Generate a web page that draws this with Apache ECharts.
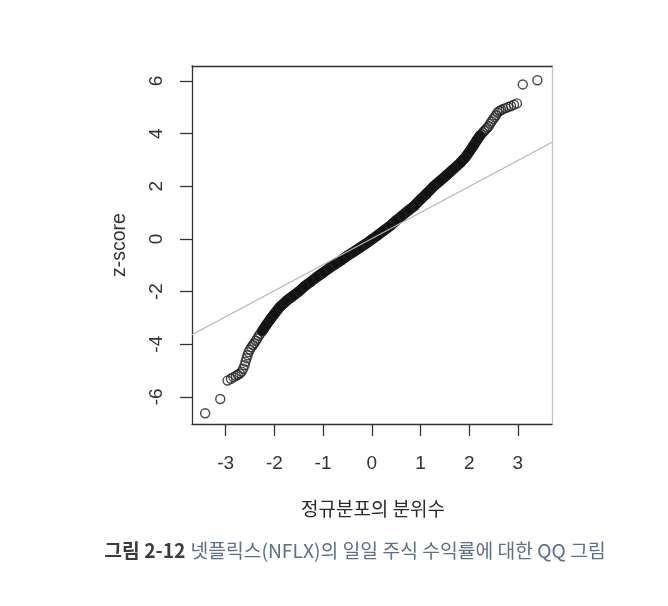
<!DOCTYPE html>
<html>
<head>
<meta charset="utf-8">
<script src="https://cdn.jsdelivr.net/npm/echarts@6/dist/echarts.min.js"></script>
<style>
html,body{margin:0;padding:0;background:#fff;}
#c{width:668px;height:606px;}
</style>
</head>
<body>
<div id="c"></div>
<script>
// theoretical normal quantiles and sample z-scores
const bandQ = [-2.25,-2.16,-2.09,-2.00,-1.88,-1.75,-1.62,-1.50,-1.38,-1.25,-1.13,-1.00,-0.88,-0.75,-0.62,-0.50,-0.38,-0.25,-0.12,0.00,0.12,0.25,0.38,0.50,0.62,0.75,0.88,1.00,1.13,1.26,1.40,1.54,1.68,1.81,1.92,2.02,2.09,2.16,2.22];
const bandZ = [-3.50,-3.25,-3.07,-2.85,-2.57,-2.35,-2.17,-2.00,-1.80,-1.62,-1.45,-1.28,-1.12,-0.96,-0.80,-0.64,-0.50,-0.34,-0.18,-0.02,0.14,0.32,0.50,0.70,0.88,1.08,1.27,1.50,1.73,1.98,2.20,2.43,2.66,2.88,3.10,3.36,3.55,3.76,3.92];
const lowTailQ = [-3.42,-3.11,-2.96,-2.89,-2.84,-2.79,-2.75,-2.71,-2.67,-2.64,-2.61,-2.59,-2.57,-2.55,-2.53,-2.50,-2.47,-2.44,-2.41,-2.38,-2.35,-2.32,-2.29];
const lowTailZ = [-6.62,-6.08,-5.38,-5.31,-5.25,-5.20,-5.16,-5.11,-5.04,-4.93,-4.80,-4.66,-4.53,-4.42,-4.30,-4.20,-4.11,-4.03,-3.96,-3.87,-3.78,-3.68,-3.60];
const highTailQ = [2.25,2.28,2.31,2.34,2.37,2.40,2.43,2.46,2.49,2.52,2.55,2.58,2.62,2.66,2.70,2.75,2.80,2.86,2.92,2.98,3.10,3.40];
const highTailZ = [3.98,4.05,4.10,4.16,4.22,4.28,4.38,4.46,4.55,4.62,4.70,4.80,4.86,4.90,4.94,4.97,5.01,5.05,5.10,5.15,5.87,6.03];
const qqSlope = 0.99;
const qqIntercept = 0.01;
const xTicks = [-3,-2,-1,0,1,2,3];
const yTicks = [-6,-4,-2,0,2,4,6];
const xRange = [-3.69, 3.70];
const yRange = [-7.03, 6.57];
const xTitle = '정규분포의 분위수';
const yTitle = 'z-score';
const capBold = '그림 2-12';
const capText = '넷플릭스(NFLX)의 일일 주식 수익률에 대한 QQ 그림';

const zip = (a, b) => a.map((v, i) => [v, b[i]]);
const bandData = zip(bandQ, bandZ);
const tailData = zip(lowTailQ, lowTailZ).concat(zip(highTailQ, highTailZ));
const qqData = xRange.map(x => [x, qqIntercept + qqSlope * x]);

const axisFont = 'Liberation Sans, Arial, sans-serif';
const ring = {color: 'rgba(0,0,0,0)', borderColor: '#1e1e1e', borderWidth: 1.4};

const chart = echarts.init(document.getElementById('c'), null, {renderer: 'canvas'});
chart.setOption({
  animation: false,
  backgroundColor: '#fff',
  grid: {left: 192, top: 66, right: 116, bottom: 182, show: false},
  title: [
    {text: xTitle, left: 368, top: 494, textAlign: 'center',
     textStyle: {fontFamily: 'Noto Sans CJK KR', fontSize: 19, fontWeight: 'normal', color: '#2a2a2a'}},
    {text: '{b|' + capBold + '} {n|' + capText + '}', left: 350, top: 536, textAlign: 'center',
     textStyle: {rich: {
       b: {fontFamily: 'Noto Sans CJK KR', fontSize: 19.3, fontWeight: 'bold', color: '#3b3b3b'},
       n: {fontFamily: 'Noto Sans CJK KR', fontSize: 19.3, fontWeight: 'normal', color: '#5c7089'}
     }}}
  ],
  xAxis: [
    {type: 'value', min: xRange[0], max: xRange[1], position: 'bottom',
     axisLine: {show: true, onZero: false, lineStyle: {color: '#333', width: 1.3}},
     axisTick: {show: true, length: 12, customValues: xTicks, lineStyle: {color: '#333', width: 1.3}},
     axisLabel: {customValues: xTicks, margin: 30, fontSize: 19, fontFamily: axisFont, color: '#333',
       formatter: v => String(v)},
     splitLine: {show: false}},
    {type: 'value', min: xRange[0], max: xRange[1], position: 'top',
     axisLine: {show: true, onZero: false, lineStyle: {color: '#333', width: 1.3}},
     axisTick: {show: false}, axisLabel: {show: false}, splitLine: {show: false}}
  ],
  yAxis: [
    {type: 'value', min: yRange[0], max: yRange[1], position: 'left',
     name: yTitle, nameLocation: 'middle', nameRotate: 90, nameGap: 62,
     nameTextStyle: {fontFamily: axisFont, fontSize: 19.5, color: '#333'},
     axisLine: {show: true, onZero: false, lineStyle: {color: '#333', width: 1.3}},
     axisTick: {show: true, length: 12, customValues: yTicks, lineStyle: {color: '#333', width: 1.3}},
     axisLabel: {customValues: yTicks, rotate: 90, margin: 26, fontSize: 19, fontFamily: axisFont, color: '#333',
       formatter: v => String(v)},
     splitLine: {show: false}},
    {type: 'value', min: yRange[0], max: yRange[1], position: 'right',
     axisLine: {show: true, onZero: false, lineStyle: {color: '#c4c4c4', width: 1.3}},
     axisTick: {show: false}, axisLabel: {show: false}, splitLine: {show: false}}
  ],
  series: [
    {type: 'line', data: bandData, showSymbol: false, symbol: 'none', z: 2, silent: true,
     lineStyle: {color: '#111', width: 10.5, cap: 'round', join: 'round'}},
    {type: 'scatter', data: bandData.concat(tailData), symbol: 'circle', symbolSize: 9, z: 3, silent: true,
     itemStyle: ring},
    {type: 'line', data: qqData, symbol: 'none', z: 5, silent: true,
     lineStyle: {color: '#b5b5b5', width: 1.2}}
  ]
});
</script>
</body>
</html>
